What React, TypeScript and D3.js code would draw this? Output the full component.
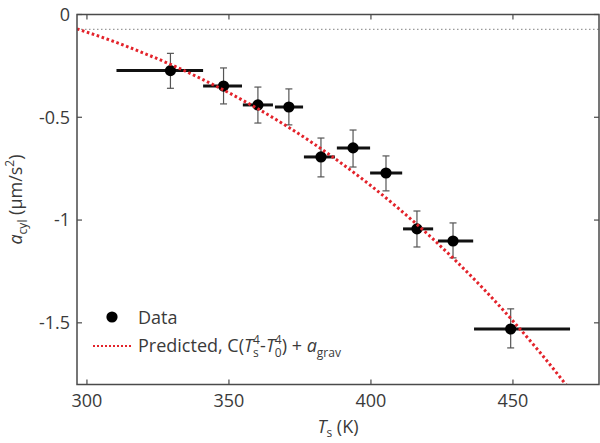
import React from 'react';
import * as d3 from 'd3';

// Data points
const temps = [329.4, 348.1, 360.2, 371.1, 382.4, 393.7, 405.3, 416.2, 428.9, 449.2];
const accel = [-0.273, -0.348, -0.44, -0.45, -0.693, -0.649, -0.771, -1.043, -1.102, -1.53];
const accelLo = [-0.359, -0.435, -0.528, -0.537, -0.79, -0.742, -0.858, -1.131, -1.184, -1.622];
const accelHi = [-0.189, -0.26, -0.353, -0.362, -0.601, -0.562, -0.688, -0.956, -1.014, -1.432];
const tempLo = [310.4, 340.9, 354.9, 366.2, 376.4, 388.0, 399.7, 411.3, 423.6, 436.3];
const tempHi = [340.9, 354.6, 365.5, 376.1, 387.3, 399.7, 411.0, 421.9, 436.0, 470.1];

// Predicted curve
const predT = [296.5, 310, 320, 330, 340, 350, 360, 370, 380, 390, 400, 410, 420, 430, 440, 450, 460, 470];
const predA = [-0.07, -0.134, -0.188, -0.246, -0.311, -0.381, -0.457, -0.54, -0.63, -0.728, -0.833, -0.947, -1.069, -1.2, -1.34, -1.491, -1.652, -1.824];

const aGrav = -0.072;

const xTicks = [300, 350, 400, 450];
const xTickLabels = ['300', '350', '400', '450'];
const yTicks = [0, -0.5, -1, -1.5];
const yTickLabels = ['0', '-0.5', '-1', '-1.5'];

const W = 600;
const H = 443;
const L = 77;
const R = 599;
const T = 14.5;
const B = 384.5;

const FONT = '"Open Sans", "DejaVu Sans", sans-serif';

export default function App() {
  const x = d3.scaleLinear().domain([296.5, 480.3]).range([L, R]);
  const y = d3.scaleLinear().domain([-1.8, 0]).range([B, T]);

  const line = d3
    .line<number>()
    .x((_, i) => x(predT[i]))
    .y((d) => y(d))
    .curve(d3.curveMonotoneX);

  const tickLen = 5;
  const axisColor = '#4a4a4a';
  const textColor = '#3a3a3a';
  const red = '#e3232b';

  return (
    <svg
      width={W}
      height={H}
      style={{ position: 'absolute', left: 0, top: 0, background: '#fff' }}
      fontFamily={FONT}
    >
      <defs>
        <clipPath id="plot">
          <rect x={L} y={T} width={R - L} height={B - T} />
        </clipPath>
      </defs>

      {/* a_grav reference line */}
      <line
        x1={L}
        x2={R}
        y1={y(aGrav)}
        y2={y(aGrav)}
        stroke="#9a9a9a"
        strokeWidth={1.2}
        strokeDasharray="1.5 2.5"
      />

      {/* data */}
      {temps.map((t, i) => (
        <g key={i}>
          <line x1={x(t)} x2={x(t)} y1={y(accelLo[i])} y2={y(accelHi[i])} stroke="#555" strokeWidth={1.2} />
          <line x1={x(t) - 3.5} x2={x(t) + 3.5} y1={y(accelLo[i])} y2={y(accelLo[i])} stroke="#555" strokeWidth={1.2} />
          <line x1={x(t) - 3.5} x2={x(t) + 3.5} y1={y(accelHi[i])} y2={y(accelHi[i])} stroke="#555" strokeWidth={1.2} />
          <line x1={x(tempLo[i])} x2={x(tempHi[i])} y1={y(accel[i])} y2={y(accel[i])} stroke="#111" strokeWidth={3} />
          <circle cx={x(t)} cy={y(accel[i])} r={5.6} fill="#000" />
        </g>
      ))}

      {/* predicted curve */}
      <path
        d={line(predA) || ''}
        fill="none"
        stroke={red}
        strokeWidth={3}
        strokeDasharray="2.6 2.6"
        clipPath="url(#plot)"
      />

      {/* frame */}
      <rect x={L} y={T} width={R - L} height={B - T} fill="none" stroke={axisColor} strokeWidth={1.5} />

      {/* ticks */}
      {xTicks.map((v, i) => (
        <g key={'x' + i}>
          <line x1={x(v)} x2={x(v)} y1={B} y2={B - tickLen} stroke={axisColor} strokeWidth={1.2} />
          <line x1={x(v)} x2={x(v)} y1={T} y2={T + tickLen} stroke={axisColor} strokeWidth={1.2} />
          <text x={x(v)} y={407} textAnchor="middle" fontSize={18} fill={textColor}>
            {xTickLabels[i]}
          </text>
        </g>
      ))}
      {yTicks.map((v, i) => (
        <g key={'y' + i}>
          <line x1={L} x2={L + tickLen} y1={y(v)} y2={y(v)} stroke={axisColor} strokeWidth={1.2} />
          <line x1={R} x2={R - tickLen} y1={y(v)} y2={y(v)} stroke={axisColor} strokeWidth={1.2} />
          <text x={70} y={y(v)} dy="0.35em" textAnchor="end" fontSize={18} fill={textColor}>
            {yTickLabels[i]}
          </text>
        </g>
      ))}

      {/* axis titles */}
      <text x={(L + R) / 2} y={433} textAnchor="middle" fontSize={18} fill={textColor}>
        <tspan fontStyle="italic">T</tspan>
        <tspan fontSize={12} dy={4}>s</tspan>
        <tspan dy={-4}> (K)</tspan>
      </text>
      <text transform={`translate(22,${(T + B) / 2}) rotate(-90)`} textAnchor="middle" fontSize={18} fill={textColor}>
        <tspan fontStyle="italic">a</tspan>
        <tspan fontSize={12} dy={5}>cyl</tspan>
        <tspan dy={-5}> (μm/s</tspan>
        <tspan fontSize={12} dy={-8}>2</tspan>
        <tspan dy={8}>)</tspan>
      </text>

      {/* legend */}
      <circle cx={112} cy={317} r={5.6} fill="#000" />
      <text x={138} y={323.5} fontSize={18} fill={textColor}>
        Data
      </text>
      <line x1={93} x2={132} y1={346} y2={346} stroke={red} strokeWidth={2} strokeDasharray="2 2" />
      <text x={138} y={352} fontSize={18} fill={textColor}>
        <tspan>Predicted, C(</tspan>
        <tspan fontStyle="italic">T</tspan>
        <tspan fontSize={12} dy={-8}>4</tspan>
        <tspan fontSize={12} dx={-6.9} dy={13}>s</tspan>
        <tspan dx={1.4} dy={-5}>-</tspan>
        <tspan fontStyle="italic">T</tspan>
        <tspan fontSize={12} dy={-8}>4</tspan>
        <tspan fontSize={12} dx={-6.9} dy={13}>0</tspan>
        <tspan dy={-5}>) + </tspan>
        <tspan fontStyle="italic">a</tspan>
        <tspan fontSize={12} dy={5}>grav</tspan>
      </text>
    </svg>
  );
}
